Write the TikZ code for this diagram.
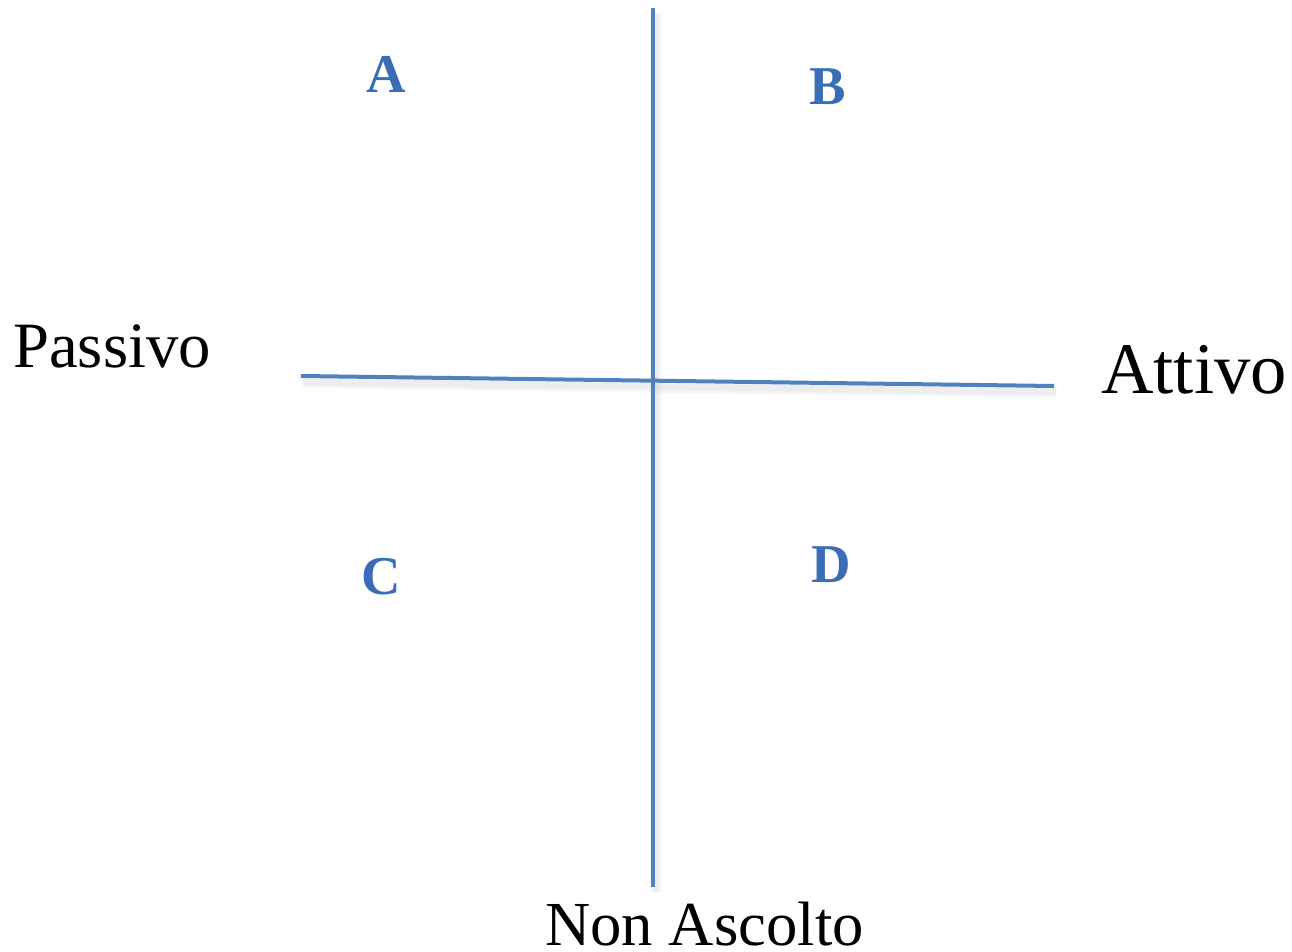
\documentclass[tikz,border=0pt]{standalone}
\usepackage{fontspec}
\setmainfont{Liberation Serif}
\usepackage{xcolor}
\definecolor{axisBlue}{HTML}{4F81BD}
\definecolor{letterBlue}{HTML}{3A6DB5}
\usepackage{tikz}

\begin{document}
\begin{tikzpicture}[x=0.75pt, y=-0.75pt,
    axis/.style={axisBlue, line width=3pt},
    axisshadow/.style={black, opacity=0.035, line width=#1},
    quad/.style={anchor=base, inner sep=0pt, text=letterBlue, font=\fontsize{41}{48}\selectfont\bfseries},
    pole/.style={anchor=base west, inner sep=0pt, text=black}]
  \useasboundingbox (0,0) rectangle (1292,952);
  % axes end points
  \coordinate (top) at (653,8);
  \coordinate (bottom) at (653,887);
  \coordinate (left) at (301,376);
  \coordinate (right) at (1054,386);
  % soft shadow under the axes
  \foreach \w in {5pt,9pt} {
    \draw[axisshadow=\w] ([shift={(3,5)}]top) -- ([shift={(3,5)}]bottom);
    \draw[axisshadow=\w] ([shift={(2,6)}]left) -- ([shift={(2,6)}]right);
  }
  \draw[axis] (top) -- (bottom);
  \draw[axis] (left) -- (right);
  % quadrant letters
  \node[quad] (qa) at (386,93) {A};
  \node[quad] (qb) at (828,105) {B};
  \node[quad] (qc) at (381,594) {C};
  \node[quad] (qd) at (831,582) {D};
  % axis labels
  \node[pole, font=\fontsize{48.5}{58}\selectfont] (passivo) at (13,367) {Passivo};
  \node[pole, font=\fontsize{54.5}{64}\selectfont] (attivo) at (1101,393) {Attivo};
  \node[pole, font=\fontsize{47}{56}\selectfont] (nonascolto) at (545,945) {Non Ascolto};
\end{tikzpicture}
\end{document}
